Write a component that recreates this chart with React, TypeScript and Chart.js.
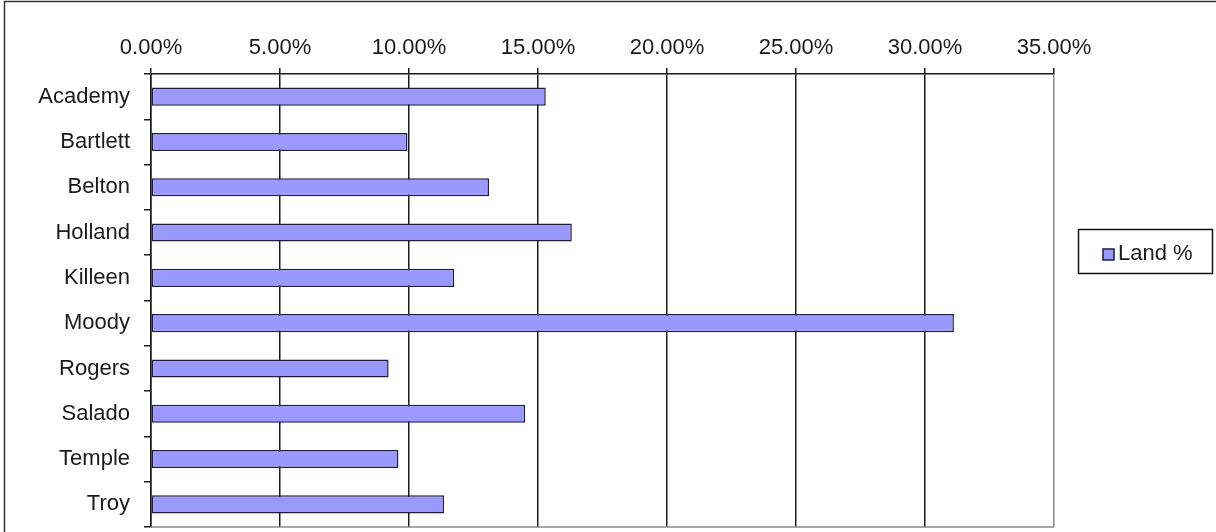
import React, { useEffect, useRef } from "react";
import { Chart, registerables } from "chart.js";

Chart.register(...registerables);

const categories = ["Academy", "Bartlett", "Belton", "Holland", "Killeen", "Moody", "Rogers", "Salado", "Temple", "Troy"];
const landPercent = [15.3, 9.94, 13.1, 16.31, 11.75, 31.12, 9.21, 14.5, 9.59, 11.36];
const seriesLabel = "Land %";
const xMin = 0;
const xMax = 35;
const xStep = 5;

const FONT = "'Liberation Sans', Arial, sans-serif";
const TEXT = "#1a1a1a";

const framePlugin = {
  id: "frame",
  beforeDraw(chart: any) {
    const ctx = chart.ctx;
    ctx.save();
    ctx.fillStyle = "#ffffff";
    ctx.fillRect(0, 0, chart.width, chart.height);
    ctx.restore();
  },
  afterDraw(chart: any) {
    const ctx = chart.ctx;
    const { left, right, bottom } = chart.chartArea;
    ctx.save();
    // plot area bottom border (gray)
    ctx.strokeStyle = "#8a8a8a";
    ctx.lineWidth = 1.5;
    ctx.beginPath();
    ctx.moveTo(left, bottom);
    ctx.lineTo(right, bottom);
    ctx.stroke();
    // outer chart frame (top and left visible)
    ctx.strokeStyle = "#333333";
    ctx.lineWidth = 1.5;
    ctx.beginPath();
    ctx.moveTo(4.5, chart.height);
    ctx.lineTo(4.5, 1.5);
    ctx.lineTo(chart.width, 1.5);
    ctx.stroke();
    // legend box
    const ds = chart.data.datasets[0];
    ctx.strokeStyle = "#111111";
    ctx.lineWidth = 1.5;
    ctx.strokeRect(1078.5, 229.5, 134, 44);
    ctx.fillStyle = ds.backgroundColor;
    ctx.fillRect(1103, 249, 11, 11);
    ctx.strokeStyle = ds.borderColor;
    ctx.lineWidth = 1.5;
    ctx.strokeRect(1103, 249, 11, 11);
    ctx.fillStyle = TEXT;
    ctx.font = `22px ${FONT}`;
    ctx.textBaseline = "middle";
    ctx.textAlign = "left";
    ctx.fillText(ds.label, 1118, 254);
    ctx.restore();
  },
};

export default function App() {
  const canvasRef = useRef<HTMLCanvasElement | null>(null);

  useEffect(() => {
    const canvas = canvasRef.current;
    if (!canvas) return;
    const chart = new Chart(canvas, {
      type: "bar",
      data: {
        labels: categories,
        datasets: [
          {
            label: seriesLabel,
            data: landPercent,
            backgroundColor: "#9999ff",
            borderColor: "#1e1e40",
            borderWidth: 1.5,
            borderSkipped: false,
            categoryPercentage: 1,
            barPercentage: 0.4,
          },
        ],
      },
      options: {
        indexAxis: "y",
        responsive: false,
        devicePixelRatio: 1,
        animation: false,
        layout: { padding: { top: 0, left: 0, right: 162, bottom: 5 } },
        plugins: {
          legend: { display: false },
          tooltip: { enabled: false },
          title: { display: false },
        },
        scales: {
          x: {
            type: "linear",
            position: "top",
            min: xMin,
            max: xMax,
            afterFit: (scale: any) => {
              scale.height = 74;
            },
            ticks: {
              stepSize: xStep,
              padding: 7,
              color: TEXT,
              font: { family: FONT, size: 22 },
              maxRotation: 0,
              callback: (v: any) => `${Number(v).toFixed(2)}%`,
            },
            grid: {
              display: true,
              drawOnChartArea: true,
              drawTicks: true,
              tickLength: 6,
              lineWidth: 1.5,
              color: (c: any) => (c.tick && c.tick.value === xMax ? "#8a8a8a" : "#1a1a1a"),
              tickColor: "#1a1a1a",
            },
            border: { display: true, color: "#1a1a1a", width: 1.5 },
          },
          y: {
            type: "category",
            position: "left",
            afterFit: (scale: any) => {
              scale.width = 151;
              scale.paddingTop = 0;
              scale.paddingBottom = 0;
            },
            ticks: {
              padding: 14,
              color: TEXT,
              font: { family: FONT, size: 22 },
            },
            grid: {
              display: true,
              offset: true,
              drawOnChartArea: false,
              drawTicks: true,
              tickLength: 7,
              lineWidth: 1.5,
              color: "#1a1a1a",
              tickColor: "#1a1a1a",
            },
            border: { display: true, color: "#1a1a1a", width: 1.5 },
          },
        },
      },
      plugins: [framePlugin],
    });
    return () => chart.destroy();
  }, []);

  return (
    <div style={{ position: "fixed", left: 0, top: 0, width: 1216, height: 532 }}>
      <canvas ref={canvasRef} width={1216} height={532} style={{ display: "block", width: 1216, height: 532 }} />
    </div>
  );
}
